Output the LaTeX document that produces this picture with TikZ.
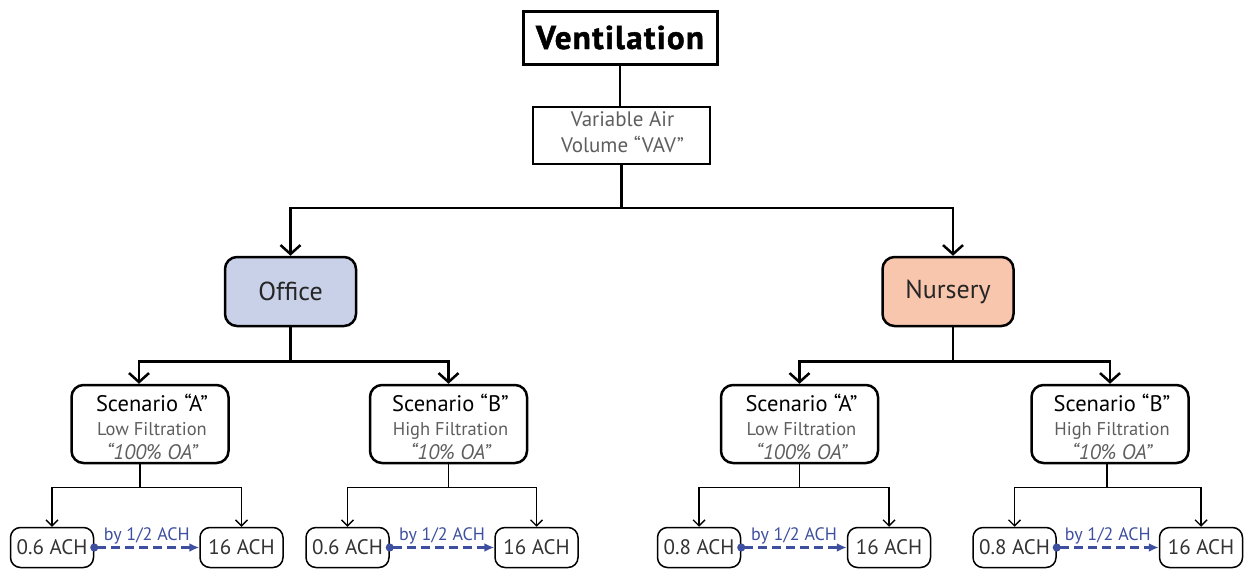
\documentclass[tikz,border=0pt]{standalone}
\usepackage{fontspec}
\setmainfont{PT Sans}
\newfontfamily\heavyfont{PT Sans Bold}[FakeBold=1.4, LetterSpace=4]
\usetikzlibrary{arrows.meta,calc}

\definecolor{officefill}{HTML}{C9D1E8}
\definecolor{nurseryfill}{HTML}{F8C5AD}
\definecolor{greytext}{HTML}{5E5E5E}
\definecolor{leaftext}{HTML}{333333}
\definecolor{stepblue}{HTML}{3E4FA0}

\tikzset{
  box/.style={draw=black, line width=2.5pt, inner sep=0pt, align=center},
  titlebox/.style={box, line width=3pt, minimum width=194pt, minimum height=53pt,
    font=\fontsize{33}{35}\heavyfont},
  vavbox/.style={box, line width=2.3pt, minimum width=177pt, minimum height=57pt},
  vavtext/.style={anchor=base, inner sep=0pt, text=greytext, font=\fontsize{21}{23}\selectfont},
  roombox/.style={box, rounded corners=12pt, minimum width=131pt, minimum height=69pt,
    text=black!85, font=\fontsize{26}{28}\selectfont},
  scenbox/.style={box, rounded corners=12pt, minimum width=157pt, minimum height=78pt},
  scentitle/.style={anchor=base, inner sep=0pt, font=\fontsize{22.5}{25}\selectfont},
  scensub/.style={anchor=base, inner sep=0pt, text=greytext, font=\fontsize{18.5}{20}\selectfont},
  scenoa/.style={anchor=base, inner sep=0pt, text=greytext, font=\fontsize{21}{23}\selectfont\itshape},
  leafbox/.style={draw=black, line width=1.5pt, rounded corners=10pt, inner sep=0pt,
    minimum width=83pt, minimum height=40pt, text=leaftext, font=\fontsize{21}{23}\selectfont},
  mainline/.style={line width=2.5pt},
  mainarrow/.style={line width=2.5pt, -{Straight Barb[length=9pt,width=20pt]}},
  leafarrow/.style={line width=1.4pt, -{Straight Barb[length=6pt,width=12pt]}},
  stepline/.style={draw=stepblue, line width=2.2pt, dash pattern=on 9pt off 5pt,
    {Circle[length=8pt,sep=-4pt]}-{Latex[length=10pt,width=9pt]}},
  steplabel/.style={anchor=base, inner sep=0pt, text=stepblue, font=\fontsize{18}{20}\selectfont},
}

% scenario box with its three lines of text
\newcommand\ScenarioBox[5]{%
  \node[scenbox] (#1) at (#2,424) {};
  \node[scentitle] (#1-t) at ($(#1.north)+(2,28)$) {Scenario “#3”};
  \node[scensub]   (#1-f) at ($(#1.north)+(2,52)$) {#4};
  \node[scenoa]    (#1-o) at ($(#1.north)+(2,76)$) {“#5”};
}

% pair of air-change boxes joined by the half-step arrow
\newcommand\LeafPair[4]{%
  \node[leafbox] (#1-lo) at (#2,547.5) {#3};
  \node[leafbox] (#1-hi) at (#4,547.5) {16 ACH};
  \draw[stepline] (#1-lo.east) -- node[steplabel, yshift=7pt] {by 1/2 ACH} (#1-hi.west);
}

\begin{document}
\begin{tikzpicture}[x=1pt, y=-1pt]
\useasboundingbox (0,0) rectangle (1252,570);

% top of the tree
\node[titlebox] (vent) at (620,37.5) {Ventilation};
\node[vavbox] (vav) at (621.5,135.5) {};
\node[vavtext] (vav-l1) at ($(vav.north)+(1,21)$) {Variable Air};
\node[vavtext] (vav-l2) at ($(vav.north)+(1,47)$) {Volume “VAV”};

% rooms
\node[roombox, fill=officefill] (office) at (290.5,291.5) {Office};
\node[roombox, fill=nurseryfill] (nursery) at (948,291.5) {Nursery};

% scenarios
\ScenarioBox{oa}{150}{A}{Low Filtration}{100\% OA}
\ScenarioBox{ob}{448.5}{B}{High Filtration}{10\% OA}
\ScenarioBox{na}{799.5}{A}{Low Filtration}{100\% OA}
\ScenarioBox{nb}{1110}{B}{High Filtration}{10\% OA}

% air-change rates
\LeafPair{oa}{52}{0.6 ACH}{241.5}
\LeafPair{ob}{347.5}{0.6 ACH}{536.5}
\LeafPair{na}{699}{0.8 ACH}{889}
\LeafPair{nb}{1014.5}{0.8 ACH}{1201}

% connectors
\draw[mainline] (vent.south) -- (vent.south |- vav.north);
\draw[mainarrow] (vav.south) -- ++(0,43) -| (office.north);
\draw[mainarrow] (vav.south) -- ++(0,43) -| ([xshift=5pt]nursery.north);

\draw[mainarrow] (office.south) -- ++(0,34) -| ([xshift=-11pt]oa.north);
\draw[mainarrow] (office.south) -- ++(0,34) -| (ob.north);
\draw[mainarrow] ([xshift=5pt]nursery.south) -- ++(0,34) -| (na.north);
\draw[mainarrow] ([xshift=5pt]nursery.south) -- ++(0,34) -| (nb.north);

\draw[leafarrow] ([xshift=-10pt]oa.south) -- ++(0,23) -| (oa-lo.north);
\draw[leafarrow] ([xshift=-10pt]oa.south) -- ++(0,23) -| (oa-hi.north);
\draw[leafarrow] (ob.south) -- ++(0,23) -| (ob-lo.north);
\draw[leafarrow] (ob.south) -- ++(0,23) -| (ob-hi.north);
\draw[leafarrow] (na.south) -- ++(0,23) -| (na-lo.north);
\draw[leafarrow] (na.south) -- ++(0,23) -| (na-hi.north);
\draw[leafarrow] ([xshift=-3pt]nb.south) -- ++(0,23) -| (nb-lo.north);
\draw[leafarrow] ([xshift=-3pt]nb.south) -- ++(0,23) -| (nb-hi.north);
\end{tikzpicture}
\end{document}
